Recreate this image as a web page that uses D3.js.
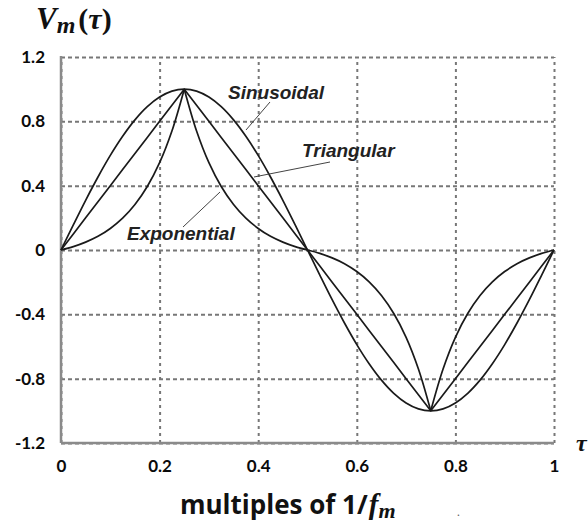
<!DOCTYPE html>
<html>
<head>
<meta charset="utf-8">
<script src="https://cdn.jsdelivr.net/npm/d3@7/dist/d3.min.js"></script>
<style>
  body { margin: 0; background: #fff; }
  .tick text { font-family: Lato, "Noto Sans", sans-serif; font-weight: bold; font-size: 17px; fill: #0a0a0a; }
  .lbl { font-family: "Liberation Sans", Arial, sans-serif; font-style: italic; font-weight: bold; font-size: 19px; fill: #222; }
</style>
</head>
<body>
<svg id="chart" width="588" height="525"></svg>
<script>
(function() {

var tau = [0, 0.025, 0.05, 0.075, 0.1, 0.125, 0.15, 0.175, 0.2, 0.225,
           0.25, 0.275, 0.3, 0.325, 0.35, 0.375, 0.4, 0.425, 0.45, 0.475,
           0.5, 0.525, 0.55, 0.575, 0.6, 0.625, 0.65, 0.675, 0.7, 0.725,
           0.75, 0.775, 0.8, 0.825, 0.85, 0.875, 0.9, 0.925, 0.95, 0.975, 1];

var sinusoidal = [0, 0.156, 0.309, 0.454, 0.588, 0.707, 0.809, 0.891, 0.951, 0.988,
                  1, 0.988, 0.951, 0.891, 0.809, 0.707, 0.588, 0.454, 0.309, 0.156,
                  0, -0.156, -0.309, -0.454, -0.588, -0.707, -0.809, -0.891, -0.951, -0.988,
                  -1, -0.988, -0.951, -0.891, -0.809, -0.707, -0.588, -0.454, -0.309, -0.156, 0];

var triangular = [0, 0.1, 0.2, 0.3, 0.4, 0.5, 0.6, 0.7, 0.8, 0.9,
                  1, 0.9, 0.8, 0.7, 0.6, 0.5, 0.4, 0.3, 0.2, 0.1,
                  0, -0.1, -0.2, -0.3, -0.4, -0.5, -0.6, -0.7, -0.8, -0.9,
                  -1, -0.9, -0.8, -0.7, -0.6, -0.5, -0.4, -0.3, -0.2, -0.1, 0];

var exponential = [0, 0.021, 0.049, 0.085, 0.134, 0.198, 0.283, 0.395, 0.543, 0.740,
                   1, 0.740, 0.543, 0.395, 0.283, 0.198, 0.134, 0.085, 0.049, 0.021,
                   0, -0.021, -0.049, -0.085, -0.134, -0.198, -0.283, -0.395, -0.543, -0.740,
                   -1, -0.740, -0.543, -0.395, -0.283, -0.198, -0.134, -0.085, -0.049, -0.021, 0];

var xTicks = [0, 0.2, 0.4, 0.6, 0.8, 1],
    xTickLabels = ["0", "0.2", "0.4", "0.6", "0.8", "1"],
    yTicks = [1.2, 0.8, 0.4, 0, -0.4, -0.8, -1.2],
    yTickLabels = ["1.2", "0.8", "0.4", "0", "-0.4", "-0.8", "-1.2"];

var labels = [
  { text: "Sinusoidal",  x: 228, y: 99,  from: [270, 102], to: [246, 130] },
  { text: "Triangular",  x: 302, y: 157, from: [330, 162], to: [254, 177] },
  { text: "Exponential", x: 127, y: 240, from: [183, 227], to: [220, 192] }
];

var left = 61, right = 554, top = 57, bottom = 443;

var svg = d3.select("#chart"),
    x = d3.scaleLinear().domain([0, 1]).range([left, right]),
    y = d3.scaleLinear().domain([-1.2, 1.2]).range([bottom, top]);

// grid + tick labels
var gy = svg.append("g")
    .attr("transform", "translate(" + left + ",0)")
    .call(d3.axisLeft(y).tickValues(yTicks)
      .tickFormat(function(d, i) { return yTickLabels[i]; })
      .tickSize(-(right - left)).tickPadding(16));

var gx = svg.append("g")
    .attr("transform", "translate(0," + bottom + ")")
    .call(d3.axisBottom(x).tickValues(xTicks)
      .tickFormat(function(d, i) { return xTickLabels[i]; })
      .tickSize(-(bottom - top)).tickPadding(17));

svg.selectAll(".domain").remove();
gy.selectAll(".tick line").attr("stroke", "#777").attr("stroke-width", 2).attr("stroke-dasharray", "4,3");
gx.selectAll(".tick line").attr("stroke", "#777").attr("stroke-width", 2).attr("stroke-dasharray", "3,4");

// solid left and bottom axes
svg.append("line").attr("x1", left).attr("x2", left).attr("y1", top - 1).attr("y2", bottom)
   .attr("stroke", "#8a8a8a").attr("stroke-width", 2.5);
svg.append("line").attr("x1", left).attr("x2", right).attr("y1", bottom).attr("y2", bottom)
   .attr("stroke", "#8a8a8a").attr("stroke-width", 2.5);

// curves
function pts(vals, from, to) {
  var out = [];
  for (var i = from; i <= to; ++i) out.push([tau[i], vals[i]]);
  return out;
}

var smooth = d3.line().x(function(d) { return x(d[0]); }).y(function(d) { return y(d[1]); })
               .curve(d3.curveCatmullRom.alpha(0.5)),
    straight = d3.line().x(function(d) { return x(d[0]); }).y(function(d) { return y(d[1]); });

var curves = svg.append("g").attr("fill", "none").attr("stroke", "#1a1a1a")
                .attr("stroke-width", 1.7).attr("stroke-linejoin", "round");

curves.append("path").attr("d", smooth(pts(sinusoidal, 0, 40)));
curves.append("path").attr("d", straight(pts(triangular, 0, 40)));
// exponential has cusps at the peaks, draw each quarter on its own
[[0, 10], [10, 20], [20, 30], [30, 40]].forEach(function(p) {
  curves.append("path").attr("d", smooth(pts(exponential, p[0], p[1])));
});

// labels with pointer lines
labels.forEach(function(l) {
  svg.append("line")
     .attr("x1", l.from[0]).attr("y1", l.from[1]).attr("x2", l.to[0]).attr("y2", l.to[1])
     .attr("stroke", "#444").attr("stroke-width", 1);
  svg.append("text").attr("class", "lbl").attr("x", l.x).attr("y", l.y).text(l.text);
});

// axis titles
var yt = svg.append("text").attr("x", 36).attr("y", 29)
    .attr("font-family", "'Liberation Serif', serif").attr("font-weight", "bold").attr("fill", "#111");
yt.append("tspan").attr("font-style", "italic").attr("font-size", 31).text("V");
yt.append("tspan").attr("font-style", "italic").attr("font-size", 24).attr("dy", 4).text("m");
yt.append("tspan").attr("font-size", 30).attr("dy", -4).attr("dx", 3).text("(");
yt.append("tspan").attr("font-style", "italic").attr("font-size", 30).text("τ");
yt.append("tspan").attr("font-size", 30).text(")");

svg.append("text").attr("x", 576).attr("y", 451)
   .attr("font-family", "'Liberation Serif', serif").attr("font-weight", "bold")
   .attr("font-style", "italic").attr("font-size", 24).attr("fill", "#111").text("τ");

var xt = svg.append("text").attr("x", 180).attr("y", 514)
    .attr("font-family", "'Open Sans', sans-serif").attr("font-weight", "bold")
    .attr("font-size", 26).attr("fill", "#111");
xt.append("tspan").text("multiples of 1/");
xt.append("tspan").attr("font-family", "'Liberation Serif', serif").attr("font-style", "italic")
  .attr("font-size", 29).attr("dx", 1).text("f");
xt.append("tspan").attr("font-family", "'Liberation Serif', serif").attr("font-style", "italic")
  .attr("font-size", 22).attr("dy", 4).text("m");

svg.append("text").attr("x", 457).attr("y", 516).attr("font-family", "Lato, sans-serif")
   .attr("font-size", 12).attr("fill", "#666").text(".");

}());
</script>
</body>
</html>
